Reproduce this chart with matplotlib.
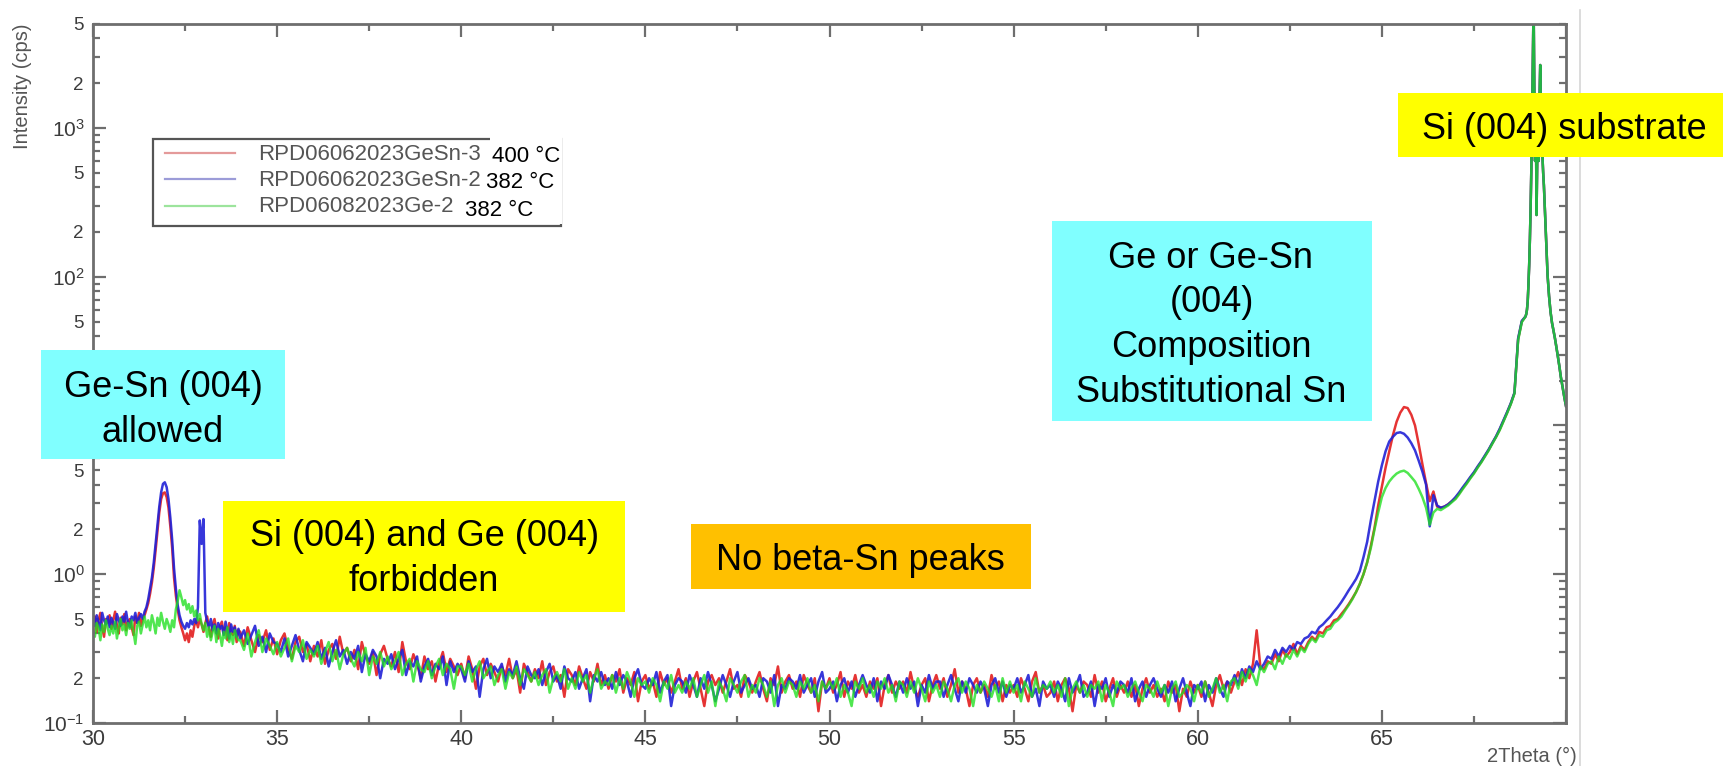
import numpy as np
import matplotlib
matplotlib.use("Agg")
import matplotlib.pyplot as plt
from matplotlib.patches import Rectangle
from matplotlib.lines import Line2D
from matplotlib.ticker import LogLocator, MultipleLocator, FuncFormatter

plt.rcParams['font.family'] = ['Liberation Sans', 'DejaVu Sans']
plt.rcParams['mathtext.fontset'] = 'custom'
plt.rcParams['mathtext.rm'] = 'Liberation Sans'
plt.rcParams['mathtext.default'] = 'regular'

# ---------------------------------------------------------------------------
# XRD 2theta scans (intensity in cps).  Three sampling blocks:
#   fine : 30.00 - 33.95 deg, step 0.05   (one row = 0.5 deg)
#   main : 34.0  - 68.9  deg, step 0.1    (one row = 1 deg)
#   Si substrate peak: 68.92 - 70.00 deg, step 0.02 (common to all samples)
# ---------------------------------------------------------------------------
fine_start, fine_step = 30.0, 0.05
main_start, main_step = 34.0, 0.1
peak_start, peak_step = 68.92, 0.02

labels = ['RPD06062023GeSn-3', 'RPD06062023GeSn-2', 'RPD06082023Ge-2']
temperatures = ['400 °C', '382 °C', '382 °C']
colors = ['#e31e1e', '#2121d6', '#1fe01f']

gesn3_fine = [
    0.46, 0.52, 0.41, 0.49, 0.55, 0.44, 0.38, 0.50, 0.47, 0.53,
    0.43, 0.49, 0.56, 0.45, 0.40, 0.51, 0.46, 0.54, 0.42, 0.48,
    0.50, 0.44, 0.39, 0.52, 0.47, 0.55, 0.45, 0.50, 0.53, 0.58,
    0.64, 0.74, 0.88, 1.10, 1.45, 1.95, 2.60, 3.20, 3.50, 3.55,
    3.30, 2.80, 2.10, 1.50, 0.95, 0.72, 0.58, 0.49, 0.44, 0.40,
    0.36, 0.40, 0.35, 0.42, 0.38, 0.45, 0.49, 0.44, 0.50, 0.46,
    0.41, 0.47, 0.52, 0.43, 0.38, 0.46, 0.50, 0.42, 0.37, 0.45,
    0.48, 0.40, 0.44, 0.36, 0.47, 0.41, 0.39, 0.45, 0.35, 0.42,
]
gesn3_main = [
    0.41, 0.33, 0.44, 0.36, 0.30, 0.39, 0.35, 0.42, 0.31, 0.37,   # 34
    0.29, 0.36, 0.40, 0.31, 0.27, 0.35, 0.38, 0.30, 0.34, 0.26,   # 35
    0.33, 0.28, 0.36, 0.25, 0.31, 0.34, 0.27, 0.38, 0.29, 0.32,   # 36
    0.26, 0.31, 0.23, 0.35, 0.28, 0.25, 0.30, 0.21, 0.29, 0.33,   # 37
    0.27, 0.24, 0.30, 0.22, 0.35, 0.26, 0.23, 0.29, 0.25, 0.20,   # 38
    0.28, 0.23, 0.26, 0.19, 0.25, 0.30, 0.22, 0.27, 0.24, 0.21,   # 39
    0.25, 0.20, 0.28, 0.23, 0.17, 0.24, 0.27, 0.21, 0.25, 0.22,   # 40
    0.19, 0.24, 0.21, 0.27, 0.20, 0.23, 0.16, 0.25, 0.22, 0.19,   # 41
    0.23, 0.20, 0.26, 0.18, 0.22, 0.24, 0.19, 0.21, 0.15, 0.23,   # 42
    0.21, 0.18, 0.24, 0.20, 0.17, 0.22, 0.19, 0.25, 0.18, 0.21,   # 43
    0.17, 0.21, 0.19, 0.23, 0.16, 0.20, 0.18, 0.22, 0.14, 0.19,   # 44
    0.21, 0.17, 0.19, 0.15, 0.22, 0.18, 0.20, 0.16, 0.19, 0.23,   # 45
    0.17, 0.20, 0.15, 0.19, 0.22, 0.17, 0.13, 0.19, 0.21, 0.18,   # 46
    0.20, 0.16, 0.19, 0.23, 0.17, 0.18, 0.15, 0.21, 0.19, 0.16,   # 47
    0.19, 0.22, 0.17, 0.14, 0.20, 0.18, 0.24, 0.16, 0.19, 0.21,   # 48
    0.17, 0.19, 0.15, 0.21, 0.18, 0.16, 0.20, 0.12, 0.19, 0.17,   # 49
    0.20, 0.16, 0.18, 0.22, 0.15, 0.19, 0.17, 0.21, 0.16, 0.18,   # 50
    0.15, 0.19, 0.17, 0.20, 0.13, 0.18, 0.21, 0.16, 0.19, 0.17,   # 51
    0.19, 0.16, 0.22, 0.17, 0.15, 0.18, 0.20, 0.14, 0.18, 0.21,   # 52
    0.17, 0.20, 0.15, 0.18, 0.23, 0.16, 0.19, 0.17, 0.13, 0.18,   # 53
    0.20, 0.16, 0.18, 0.15, 0.21, 0.17, 0.19, 0.14, 0.18, 0.16,   # 54
    0.18, 0.15, 0.20, 0.17, 0.14, 0.19, 0.22, 0.16, 0.18, 0.15,   # 55
    0.16, 0.19, 0.14, 0.18, 0.20, 0.17, 0.12, 0.18, 0.16, 0.19,   # 56
    0.18, 0.15, 0.21, 0.16, 0.19, 0.14, 0.17, 0.20, 0.15, 0.18,   # 57
    0.16, 0.19, 0.15, 0.18, 0.13, 0.17, 0.20, 0.16, 0.18, 0.15,   # 58
    0.17, 0.14, 0.19, 0.16, 0.18, 0.12, 0.17, 0.15, 0.19, 0.16,   # 59
    0.18, 0.15, 0.19, 0.16, 0.13, 0.18, 0.21, 0.17, 0.19, 0.16,   # 60
    0.19, 0.22, 0.18, 0.23, 0.20, 0.25, 0.42, 0.24, 0.23, 0.26,   # 61
    0.25, 0.29, 0.26, 0.31, 0.28, 0.30, 0.34, 0.29, 0.33, 0.31,   # 62
    0.35, 0.38, 0.36, 0.41, 0.40, 0.44, 0.45, 0.49, 0.50, 0.54,   # 63
    0.58, 0.63, 0.69, 0.76, 0.86, 1.00, 1.20, 1.55, 2.05, 2.90,   # 64
    3.90, 5.20, 6.70, 8.60, 10.6, 12.2, 13.3, 13.1, 11.8, 10.0,   # 65
    7.50, 5.50, 4.10, 3.10, 3.60, 2.85, 2.80, 2.85, 2.95, 3.10,   # 66
    3.25, 3.50, 3.80, 4.10, 4.45, 4.80, 5.25, 5.70, 6.25, 6.85,   # 67
    7.60, 8.40, 9.40, 10.7, 12.2, 14.0, 16.5, 38.0, 50.0, 54.0,   # 68
]

gesn2_fine = [
    0.50, 0.45, 0.53, 0.48, 0.42, 0.55, 0.49, 0.46, 0.52, 0.44,
    0.51, 0.47, 0.43, 0.54, 0.49, 0.45, 0.52, 0.48, 0.56, 0.47,
    0.44, 0.52, 0.49, 0.55, 0.47, 0.51, 0.54, 0.50, 0.56, 0.60,
    0.68, 0.80, 0.95, 1.20, 1.60, 2.15, 2.85, 3.55, 4.05, 4.15,
    3.85, 3.20, 2.40, 1.70, 1.10, 0.80, 0.62, 0.53, 0.48, 0.45,
    0.43, 0.47, 0.44, 0.49, 0.46, 0.50, 0.47, 0.60, 2.30, 1.60,
    2.35, 0.55, 0.48, 0.44, 0.50, 0.42, 0.46, 0.40, 0.47, 0.43,
    0.45, 0.39, 0.48, 0.42, 0.37, 0.46, 0.41, 0.44, 0.38, 0.43,
]
gesn2_main = [
    0.37, 0.42, 0.34, 0.39, 0.45, 0.33, 0.38, 0.30, 0.40, 0.35,   # 34
    0.34, 0.30, 0.37, 0.28, 0.33, 0.39, 0.31, 0.26, 0.35, 0.32,   # 35
    0.29, 0.35, 0.27, 0.32, 0.24, 0.30, 0.36, 0.28, 0.31, 0.25,   # 36
    0.30, 0.27, 0.33, 0.22, 0.29, 0.26, 0.31, 0.28, 0.20, 0.27,   # 37
    0.25, 0.29, 0.23, 0.27, 0.31, 0.21, 0.26, 0.24, 0.28, 0.19,   # 38
    0.24, 0.27, 0.21, 0.25, 0.23, 0.28, 0.18, 0.26, 0.22, 0.25,   # 39
    0.23, 0.19, 0.26, 0.22, 0.24, 0.15, 0.23, 0.27, 0.20, 0.24,   # 40
    0.22, 0.25, 0.19, 0.23, 0.21, 0.26, 0.20, 0.17, 0.24, 0.21,   # 41
    0.20, 0.23, 0.18, 0.22, 0.25, 0.19, 0.21, 0.17, 0.24, 0.20,   # 42
    0.19, 0.22, 0.17, 0.20, 0.23, 0.14, 0.21, 0.19, 0.22, 0.18,   # 43
    0.20, 0.17, 0.22, 0.18, 0.21, 0.19, 0.15, 0.20, 0.23, 0.18,   # 44
    0.17, 0.20, 0.18, 0.22, 0.16, 0.19, 0.21, 0.13, 0.18, 0.20,   # 45
    0.19, 0.16, 0.21, 0.18, 0.15, 0.20, 0.17, 0.22, 0.18, 0.14,   # 46
    0.17, 0.21, 0.18, 0.15, 0.19, 0.22, 0.16, 0.18, 0.20, 0.17,   # 47
    0.18, 0.15, 0.20, 0.19, 0.16, 0.21, 0.13, 0.18, 0.17, 0.20,   # 48
    0.19, 0.17, 0.21, 0.16, 0.18, 0.20, 0.15, 0.19, 0.22, 0.16,   # 49
    0.17, 0.19, 0.14, 0.18, 0.20, 0.16, 0.19, 0.15, 0.18, 0.21,   # 50
    0.18, 0.16, 0.20, 0.14, 0.19, 0.17, 0.21, 0.18, 0.15, 0.19,   # 51
    0.16, 0.20, 0.17, 0.19, 0.13, 0.18, 0.16, 0.21, 0.17, 0.19,   # 52
    0.19, 0.15, 0.18, 0.21, 0.17, 0.14, 0.19, 0.16, 0.20, 0.18,   # 53
    0.16, 0.19, 0.17, 0.13, 0.18, 0.20, 0.16, 0.19, 0.15, 0.18,   # 54
    0.17, 0.20, 0.16, 0.18, 0.21, 0.15, 0.17, 0.13, 0.19, 0.17,   # 55
    0.18, 0.15, 0.19, 0.17, 0.14, 0.20, 0.16, 0.18, 0.21, 0.15,   # 56
    0.16, 0.19, 0.13, 0.18, 0.17, 0.20, 0.15, 0.18, 0.16, 0.19,   # 57
    0.18, 0.16, 0.20, 0.14, 0.17, 0.19, 0.15, 0.18, 0.20, 0.17,   # 58
    0.15, 0.18, 0.16, 0.19, 0.14, 0.17, 0.20, 0.16, 0.13, 0.18,   # 59
    0.17, 0.19, 0.14, 0.18, 0.16, 0.20, 0.17, 0.15, 0.19, 0.18,   # 60
    0.21, 0.18, 0.23, 0.20, 0.24, 0.22, 0.26, 0.23, 0.25, 0.28,   # 61
    0.27, 0.31, 0.28, 0.32, 0.30, 0.33, 0.31, 0.35, 0.34, 0.37,   # 62
    0.38, 0.41, 0.40, 0.44, 0.46, 0.49, 0.52, 0.56, 0.60, 0.65,   # 63
    0.71, 0.78, 0.85, 0.93, 1.05, 1.30, 1.65, 2.30, 3.10, 4.20,   # 64
    5.40, 6.70, 7.80, 8.40, 8.90, 9.00, 8.80, 8.30, 7.60, 6.80,   # 65
    5.80, 4.90, 4.00, 2.10, 3.40, 2.90, 2.80, 2.85, 2.95, 3.10,   # 66
    3.30, 3.55, 3.85, 4.15, 4.50, 4.85, 5.30, 5.75, 6.30, 6.90,   # 67
    7.65, 8.45, 9.50, 10.8, 12.3, 14.1, 16.6, 38.5, 50.5, 54.0,   # 68
]

ge2_fine = [
    0.42, 0.38, 0.47, 0.44, 0.36, 0.46, 0.41, 0.49, 0.43, 0.39,
    0.45, 0.40, 0.48, 0.37, 0.44, 0.50, 0.42, 0.46, 0.39, 0.47,
    0.43, 0.49, 0.41, 0.34, 0.45, 0.48, 0.40, 0.46, 0.52, 0.44,
    0.49, 0.42, 0.53, 0.47, 0.40, 0.51, 0.45, 0.55, 0.48, 0.43,
    0.50, 0.46, 0.41, 0.49, 0.44, 0.58, 0.66, 0.78, 0.70, 0.62,
    0.67, 0.58, 0.63, 0.55, 0.61, 0.52, 0.57, 0.49, 0.54, 0.46,
    0.42, 0.47, 0.38, 0.44, 0.36, 0.41, 0.45, 0.35, 0.43, 0.39,
    0.33, 0.41, 0.37, 0.44, 0.35, 0.40, 0.34, 0.42, 0.38, 0.36,
]
ge2_main = [
    0.36, 0.31, 0.40, 0.28, 0.35, 0.42, 0.30, 0.37, 0.33, 0.29,   # 34
    0.35, 0.28, 0.32, 0.37, 0.26, 0.33, 0.30, 0.36, 0.27, 0.31,   # 35
    0.28, 0.33, 0.25, 0.30, 0.35, 0.26, 0.31, 0.23, 0.29, 0.32,   # 36
    0.27, 0.24, 0.30, 0.26, 0.32, 0.21, 0.28, 0.25, 0.30, 0.24,   # 37
    0.28, 0.23, 0.26, 0.30, 0.21, 0.25, 0.27, 0.19, 0.26, 0.23,   # 38
    0.22, 0.26, 0.20, 0.24, 0.27, 0.21, 0.25, 0.23, 0.17, 0.24,   # 39
    0.24, 0.21, 0.25, 0.19, 0.23, 0.26, 0.20, 0.22, 0.24, 0.18,   # 40
    0.21, 0.23, 0.17, 0.22, 0.20, 0.24, 0.18, 0.23, 0.21, 0.19,   # 41
    0.22, 0.18, 0.21, 0.23, 0.16, 0.20, 0.22, 0.19, 0.23, 0.17,   # 42
    0.20, 0.17, 0.22, 0.19, 0.21, 0.16, 0.20, 0.23, 0.17, 0.19,   # 43
    0.18, 0.21, 0.16, 0.20, 0.17, 0.22, 0.19, 0.15, 0.20, 0.18,   # 44
    0.19, 0.16, 0.20, 0.18, 0.14, 0.19, 0.17, 0.21, 0.16, 0.18,   # 45
    0.16, 0.19, 0.17, 0.20, 0.15, 0.18, 0.21, 0.16, 0.19, 0.13,   # 46
    0.19, 0.17, 0.14, 0.20, 0.18, 0.16, 0.19, 0.21, 0.15, 0.18,   # 47
    0.16, 0.20, 0.18, 0.15, 0.19, 0.13, 0.18, 0.20, 0.16, 0.19,   # 48
    0.18, 0.15, 0.19, 0.17, 0.20, 0.16, 0.18, 0.14, 0.19, 0.17,   # 49
    0.19, 0.17, 0.20, 0.15, 0.18, 0.16, 0.13, 0.19, 0.17, 0.20,   # 50
    0.16, 0.18, 0.15, 0.19, 0.17, 0.20, 0.16, 0.18, 0.14, 0.19,   # 51
    0.18, 0.15, 0.19, 0.16, 0.20, 0.17, 0.14, 0.19, 0.16, 0.18,   # 52
    0.15, 0.19, 0.17, 0.14, 0.18, 0.20, 0.16, 0.19, 0.17, 0.13,   # 53
    0.18, 0.16, 0.19, 0.17, 0.15, 0.18, 0.14, 0.20, 0.16, 0.19,   # 54
    0.16, 0.18, 0.14, 0.19, 0.17, 0.15, 0.20, 0.16, 0.18, 0.17,   # 55
    0.19, 0.16, 0.18, 0.15, 0.20, 0.13, 0.17, 0.19, 0.16, 0.18,   # 56
    0.15, 0.18, 0.17, 0.19, 0.14, 0.18, 0.16, 0.13, 0.19, 0.17,   # 57
    0.18, 0.15, 0.17, 0.19, 0.16, 0.14, 0.18, 0.17, 0.15, 0.19,   # 58
    0.16, 0.18, 0.13, 0.17, 0.19, 0.15, 0.16, 0.18, 0.17, 0.14,   # 59
    0.18, 0.16, 0.19, 0.15, 0.17, 0.20, 0.16, 0.18, 0.14, 0.19,   # 60
    0.20, 0.17, 0.22, 0.19, 0.23, 0.21, 0.18, 0.24, 0.22, 0.25,   # 61
    0.26, 0.23, 0.28, 0.25, 0.29, 0.27, 0.31, 0.28, 0.32, 0.30,   # 62
    0.34, 0.37, 0.35, 0.39, 0.38, 0.42, 0.43, 0.47, 0.49, 0.52,   # 63
    0.57, 0.62, 0.68, 0.76, 0.86, 1.00, 1.20, 1.50, 2.00, 2.60,   # 64
    3.30, 3.80, 4.20, 4.50, 4.75, 4.90, 4.97, 4.80, 4.50, 4.20,   # 65
    3.75, 3.30, 2.80, 2.15, 2.60, 2.75, 2.70, 2.80, 2.90, 3.05,   # 66
    3.20, 3.45, 3.75, 4.05, 4.40, 4.75, 5.20, 5.65, 6.20, 6.80,   # 67
    7.55, 8.35, 9.30, 10.6, 12.1, 13.9, 16.4, 37.5, 49.5, 54.0,   # 68
]

si_substrate = [
    56, 60, 68, 88, 120,
    180, 300, 550, 1200, 3000, 7000, 1800, 600, 1500, 260,
    650, 1000, 600, 1500, 2650, 1300, 900, 650, 500, 410,
    310, 230, 170, 130, 102, 86, 74, 65, 58, 53,
    49, 46, 43.5, 41, 38.5, 36, 33.5, 31, 29, 27,
    25, 23, 21.2, 19.8, 18.5, 17.3, 16.2, 15.2, 14.3, 13.5,
]


def scan(fine, main):
    x = np.concatenate([
        fine_start + fine_step * np.arange(len(fine)),
        main_start + main_step * np.arange(len(main)),
        peak_start + peak_step * np.arange(len(si_substrate)),
    ])
    y = np.concatenate([fine, main, si_substrate])
    return x, y


series = [scan(gesn3_fine, gesn3_main),
          scan(gesn2_fine, gesn2_main),
          scan(ge2_fine, ge2_main)]

W, H = 1723, 766


def fx(px):
    return px / W


def fy(py):
    return 1 - py / H


fig = plt.figure(figsize=(W / 100, H / 100), dpi=100)
ax = fig.add_axes([fx(93), fy(723), fx(1566) - fx(93), fy(24) - fy(723)])

for (x, y), c, a in zip(series, colors, [0.9, 0.9, 0.78]):
    ax.plot(x, y, color=c, lw=1.8, alpha=a)

ax.set_yscale('log')
ax.set_xlim(30, 70)
ax.set_ylim(0.1, 5000)

spine_col = '#6e6e6e'
for s in ax.spines.values():
    s.set_color(spine_col)
    s.set_linewidth(2.0)

ax.xaxis.set_major_locator(MultipleLocator(5))
ax.xaxis.set_minor_locator(MultipleLocator(2.5))
ax.xaxis.set_major_formatter(FuncFormatter(lambda v, p: '' if v > 69.5 else f'{v:.0f}'))
ax.yaxis.set_major_locator(LogLocator(base=10, numticks=20))
ax.yaxis.set_minor_locator(LogLocator(base=10, subs=np.arange(2, 10), numticks=20))

# the 10^1 decade labels sit behind the "Ge-Sn (004)" note and are not shown
hidden_values = (10, 20)


def major_fmt(v, pos):
    if any(abs(v - h) < 1e-6 for h in hidden_values):
        return ''
    return r'$10^{%d}$' % int(round(np.log10(v)))


def minor_fmt(v, pos):
    if any(abs(v - h) < 1e-6 for h in hidden_values):
        return ''
    m = v / 10 ** np.floor(np.log10(v) + 1e-9)
    r = round(m)
    return f'{r}' if r in (2, 5) and abs(m - r) < 1e-6 else ''


ax.yaxis.set_major_formatter(FuncFormatter(major_fmt))
ax.yaxis.set_minor_formatter(FuncFormatter(minor_fmt))

ax.tick_params(which='both', direction='in', top=True, right=True,
               color=spine_col, width=1.6, labelcolor='#3c3c3c')
ax.tick_params(which='major', length=9.5)
ax.tick_params(which='minor', length=5)
ax.tick_params(axis='x', which='major', labelsize=15.5, pad=4)
ax.tick_params(axis='y', which='major', labelsize=15, pad=6)
ax.tick_params(axis='y', which='minor', labelsize=13.5, pad=7)

fig.text(fx(22.5), fy(86.5), 'Intensity (cps)', rotation=90, ha='center',
         va='center', fontsize=14.5, color='#555555')
fig.text(fx(1532), fy(761.5), '2Theta (°)', ha='center', va='baseline',
         fontsize=14.5, color='#555555')

# thin slide border to the right of the plot
fig.add_artist(Line2D([fx(1580), fx(1580)], [fy(10), fy(766)],
                      transform=fig.transFigure, color='#d6d6d6', lw=1.2))

# ---- legend --------------------------------------------------------------
def rect(x0, y0, x1, y1, **kw):
    fig.add_artist(Rectangle((fx(x0), fy(y1)), fx(x1) - fx(x0), fy(y0) - fy(y1),
                             transform=fig.transFigure, **kw))


rect(153, 139, 561, 226, facecolor='white', edgecolor='#555555', lw=1.6, zorder=5)
legend_rows = [152.5, 179, 205.5]
legend_line_cols = ['#e49a9a', '#9c9cd8', '#9ce49c']
for yy, lab, lc in zip(legend_rows, labels, legend_line_cols):
    fig.add_artist(Line2D([fx(165), fx(235)], [fy(yy), fy(yy)],
                          transform=fig.transFigure, color=lc, lw=1.6, zorder=6))
    fig.text(fx(258), fy(yy + 7), lab, ha='left', va='baseline', fontsize=16,
             color='#555555', zorder=6)
rect(490, 133, 562, 197, facecolor='white', edgecolor='none', zorder=7)
rect(462, 197, 562, 224, facecolor='white', edgecolor='none', zorder=7)
for (tx, ty), t in zip([(491.5, 161.5), (486.5, 188.5), (465, 216.5)], temperatures):
    fig.text(fx(tx), fy(ty), t, ha='left', va='baseline', fontsize=16,
             color='black', zorder=8)

# ---- annotation boxes ------------------------------------------------------
boxes = [
    (41, 349.5, 285, 459, '#80ffff'),
    (223, 501, 625, 612, '#ffff00'),
    (691, 524, 1031, 589, '#ffc000'),
    (1052, 221, 1372, 421, '#80ffff'),
    (1398, 93, 1723, 157, '#ffff00'),
]
for x0, y0, x1, y1, fc in boxes:
    rect(x0, y0, x1, y1, facecolor=fc, edgecolor='none', zorder=9)

notes = [
    ('Ge-Sn (004)', 163, 397),
    ('allowed', 163, 441.5),
    ('Si (004) and Ge (004)', 425, 546.5),
    ('forbidden', 424, 591),
    ('No beta-Sn peaks', 860, 570),
    ('Ge or Ge-Sn', 1210, 267.5),
    ('(004)', 1212, 312),
    ('Composition', 1211, 357.3),
    ('Substitutional Sn', 1211, 401.8),
    ('Si (004) substrate', 1564.5, 139),
]
for txt, cx, by in notes:
    fig.text(fx(cx), fy(by), txt, ha='center', va='baseline', fontsize=26,
             color='black', zorder=10)

fig.savefig('out.png', dpi=100)
